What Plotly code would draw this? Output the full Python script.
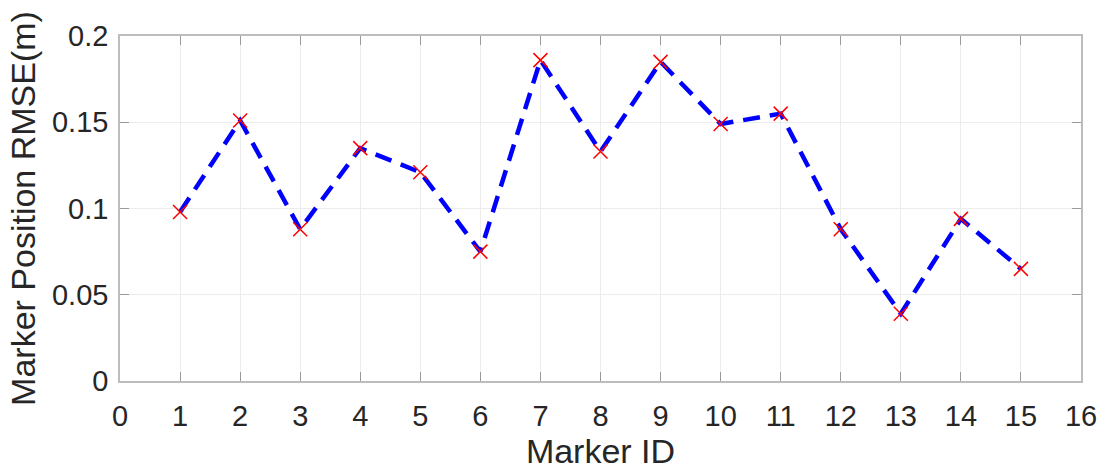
import plotly.graph_objects as go

marker_ids = list(range(1, 16))
rmse = [0.098, 0.151, 0.088, 0.135, 0.121, 0.075, 0.186, 0.133,
        0.185, 0.149, 0.155, 0.088, 0.039, 0.094, 0.065]
x_ticks = list(range(0, 17))
y_ticks = [0, 0.05, 0.1, 0.15, 0.2]
y_tick_text = ["0", "0.05", "0.1", "0.15", "0.2"]

fig = go.Figure()
fig.add_trace(go.Scatter(
    x=marker_ids, y=rmse, mode="lines",
    line=dict(color="#0000ff", width=4.5, dash="17px,10px"),
    showlegend=False, hoverinfo="skip"))
fig.add_trace(go.Scatter(
    x=marker_ids, y=rmse, mode="markers",
    marker=dict(symbol="x-thin", size=14, line=dict(color="#ff0000", width=1.5), color="#ff0000"),
    showlegend=False))

font_family = "Liberation Sans, Arial, sans-serif"
axis_common = dict(
    showline=True, linecolor="#bdbdbd", linewidth=1.5, mirror="ticks",
    ticks="inside", ticklen=9, tickwidth=1, tickcolor="#9a9a9a",
    showgrid=True, gridcolor="#ececec", gridwidth=1, zeroline=False,
    tickfont=dict(family=font_family, size=29, color="#262626"),
)

fig.update_layout(
    width=1109, height=473,
    margin=dict(l=120, r=27, t=36, b=89),
    paper_bgcolor="white", plot_bgcolor="white",
    xaxis=dict(range=[0, 16], tickvals=x_ticks, ticklabelstandoff=8,
               title=dict(text="Marker ID", font=dict(family=font_family, size=34, color="#262626"), standoff=6),
               **axis_common),
    yaxis=dict(range=[0, 0.2], tickvals=y_ticks, ticktext=y_tick_text, ticklabelstandoff=4,
               title=dict(text="Marker Position RMSE(m)", font=dict(family=font_family, size=34, color="#262626"), standoff=6),
               **axis_common),
)

fig.write_html("out.html")
